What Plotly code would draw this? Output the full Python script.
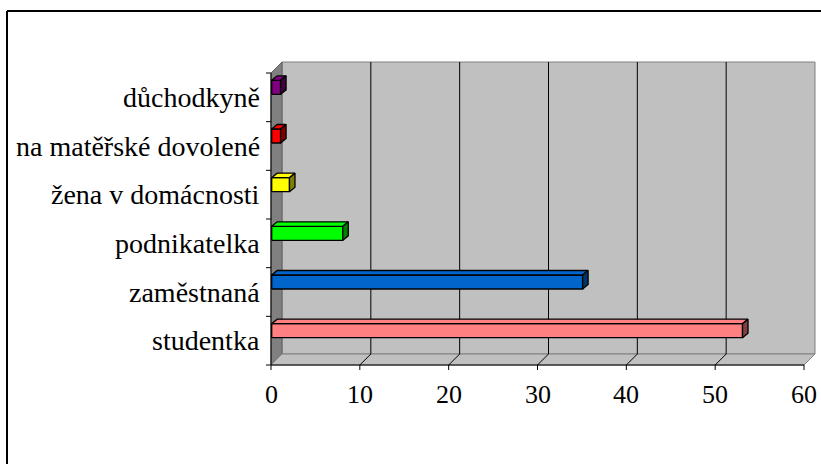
import plotly.graph_objects as go

# Data
categories = ["studentka", "zaměstnaná", "podnikatelka",
              "žena v domácnosti", "na matěřské dovolené", "důchodkyně"]
values = [53, 35, 8, 2, 1, 1]
front_colors = ["#FF8080", "#0066CC", "#00FF00", "#FFFF00", "#FF0000", "#800080"]
side_colors = ["#804040", "#003366", "#008000", "#808000", "#800000", "#400040"]
x_ticks = [0, 10, 20, 30, 40, 50, 60]

# Geometry (pixels of the 821x464 canvas)
W, H = 821, 464
X0_PX, XMAX_PX = 271, 804
Y0_PX, YTOP_PX = 365, 73
XMAX = 60
NCAT = len(categories)
sx = (XMAX_PX - X0_PX) / XMAX     # px per value unit
sy = (Y0_PX - YTOP_PX) / NCAT     # px per category band


def ux(px):
    return px / sx


def uy(px):
    return px / sy


DX, DY = ux(11), uy(11)           # wall depth
BAR_LIFT, BAR_HALF = uy(10), uy(7)
BAR_X0 = ux(0.7)
BDX, BDY = ux(5.5), uy(4.5)       # bar depth

FONT = "Liberation Serif, Times New Roman, serif"

fig = go.Figure()


def poly(xs, ys, fill):
    fig.add_trace(go.Scatter(
        x=xs + [xs[0]], y=ys + [ys[0]], mode="lines", fill="toself",
        fillcolor=fill, line=dict(color="black", width=1.3),
        hoverinfo="skip", showlegend=False))


# 3D bars
for i, (v, fc, sc) in enumerate(zip(values, front_colors, side_colors)):
    cy = i + 0.5 + BAR_LIFT
    y0, y1 = cy - BAR_HALF, cy + BAR_HALF
    x0, x1 = BAR_X0, v + BAR_X0
    poly([x0, x1, x1, x0], [y0, y0, y1, y1], fc)
    poly([x0, x1, x1 + BDX, x0 + BDX], [y1, y1, y1 + BDY, y1 + BDY], fc)
    poly([x1, x1 + BDX, x1 + BDX, x1], [y0, y0 + BDY, y1 + BDY, y1], sc)

shapes = []


def path_shape(pts, fill=None, color="black", width=1, closed=False, layer="below"):
    d = "M " + " L ".join(f"{x},{y}" for x, y in pts)
    if closed:
        d += " Z"
    s = dict(type="path", path=d, xref="x", yref="y", layer=layer,
             line=dict(color=color, width=width))
    if fill:
        s["fillcolor"] = fill
    shapes.append(s)


# Walls and floor
path_shape([(DX, DY), (XMAX + DX, DY), (XMAX + DX, NCAT + DY), (DX, NCAT + DY)],
           fill="#C0C0C0", color="#808080", closed=True)
path_shape([(0, 0), (DX, DY), (DX, NCAT + DY), (0, NCAT)],
           fill="#808080", color="#606060", closed=True)
path_shape([(0, 0), (XMAX, 0), (XMAX + DX, DY), (DX, DY)],
           fill="#C0C0C0", color="#808080", closed=True)

# Gridlines on floor and back wall
for t in x_ticks[1:-1]:
    path_shape([(t, 0), (t + DX, DY), (t + DX, NCAT + DY)], color="black")

# Axis lines and tick marks
path_shape([(0, 0), (XMAX, 0)], color="black")
path_shape([(0, 0), (0, NCAT)], color="black")
for t in x_ticks:
    path_shape([(t, 0), (t, -uy(5))], color="black")
for k in range(NCAT + 1):
    path_shape([(0, k), (-ux(5), k)], color="black")

# Outer chart border
shapes.append(dict(type="line", xref="paper", yref="paper",
                   x0=7 / W, x1=1, y0=1 - 11 / H, y1=1 - 11 / H,
                   line=dict(color="black", width=2)))
shapes.append(dict(type="line", xref="paper", yref="paper",
                   x0=7 / W, x1=7 / W, y0=0, y1=1 - 11 / H,
                   line=dict(color="black", width=2)))

annotations = []
for t in x_ticks:
    annotations.append(dict(x=t, y=-uy(29), xref="x", yref="y", text=str(t),
                            showarrow=False, xanchor="center", yanchor="middle",
                            font=dict(family=FONT, size=26, color="black")))
for i, c in enumerate(categories):
    annotations.append(dict(x=-ux(9), y=i + 0.5, xref="x", yref="y", text=c,
                            showarrow=False, xanchor="right", yanchor="middle",
                            font=dict(family=FONT, size=28, color="black")))

fig.update_layout(
    width=W, height=H, autosize=False,
    margin=dict(l=0, r=0, t=0, b=0, pad=0),
    paper_bgcolor="white", plot_bgcolor="white",
    xaxis=dict(range=[-X0_PX / sx, (W - X0_PX) / sx], visible=False, fixedrange=True),
    yaxis=dict(range=[-(H - Y0_PX) / sy, Y0_PX / sy], visible=False, fixedrange=True),
    shapes=shapes, annotations=annotations, showlegend=False,
)

fig.write_html("out.html")
